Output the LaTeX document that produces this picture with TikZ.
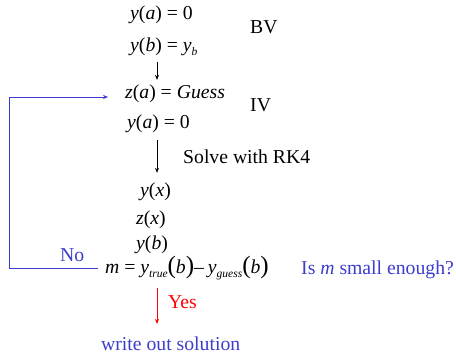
\documentclass[tikz,border=0pt]{standalone}
\usepackage{fontspec}
\setmainfont{Liberation Serif}
\usetikzlibrary{arrows.meta}
\definecolor{bleu}{RGB}{60,60,205}
\newcommand{\vi}[1]{\textit{#1}}
\newcommand{\ind}[1]{\raisebox{-3.5pt}{\fontsize{11.5}{11.5}\selectfont\vi{#1}}}
\newcommand{\gp}[1]{{\fontsize{25}{25}\selectfont(}#1{\fontsize{25}{25}\selectfont)}}
\newcommand{\eg}{\hspace{0.25em}=\hspace{0.25em}}

\begin{document}
\begin{tikzpicture}[x=1pt,y=-1pt,eq/.style={anchor=west,inner sep=0pt,font=\fontsize{19.7}{22}\selectfont},fleche/.style={-{Stealth[length=5pt,width=4pt]},line width=0.6pt},boucle/.style={draw=bleu,line width=0.6pt}]
\useasboundingbox (0,0) rectangle (456,356);
\coordinate (axe) at (157,0);
\node[eq] (ya) at (130,15) {\vi{y}(\vi{a})\eg0};
\node[eq] (bv) at (250,27) {BV};
\node[eq] (yb) at (130,47) {\vi{y}(\vi{b})\eg\vi{y}\ind{b}};
\node[eq] (za) at (125,94) {\vi{z}(\vi{a})\eg\vi{Guess}};
\node[eq] (iv) at (250,105) {IV};
\node[eq] (ya2) at (127,124) {\vi{y}(\vi{a})\eg0};
\node[eq] (rk) at (183,157) {Solve with RK4};
\node[eq] (yx) at (140,192) {\vi{y}(\vi{x})};
\node[eq] (zx) at (136,220) {\vi{z}(\vi{x})};
\node[eq] (ybb) at (136,245) {\vi{y}(\vi{b})};
\node[eq,text=bleu] (no) at (60,255) {No};
\node[eq] (m) at (105,268) {\vi{m}\eg\vi{y}\ind{true}\gp{\vi{b}}--\hspace{0.2em}\vi{y}\ind{guess}\gp{\vi{b}}};
\node[eq,text=bleu] (test) at (301,270) {Is \vi{m} small enough?};
\node[eq,text=red] (yes) at (168,302) {Yes};
\node[eq,text=bleu] (sol) at (101,344) {write out solution};
\coordinate (retour) at (9,97);
\draw[fleche,shorten <=6pt,shorten >=5pt] (yb.south -| axe) -- (za.north -| axe);
\draw[fleche,shorten <=7pt,shorten >=10pt] (ya2.south -| axe) -- (yx.north -| axe);
\draw[fleche,red,shorten <=8pt,shorten >=13pt] (m.south -| axe) -- (sol.north -| axe);
\draw[boucle,fleche,shorten <=7pt,shorten >=17pt] (m.west) -| (retour) -- (retour -| za.west);
\end{tikzpicture}
\end{document}
